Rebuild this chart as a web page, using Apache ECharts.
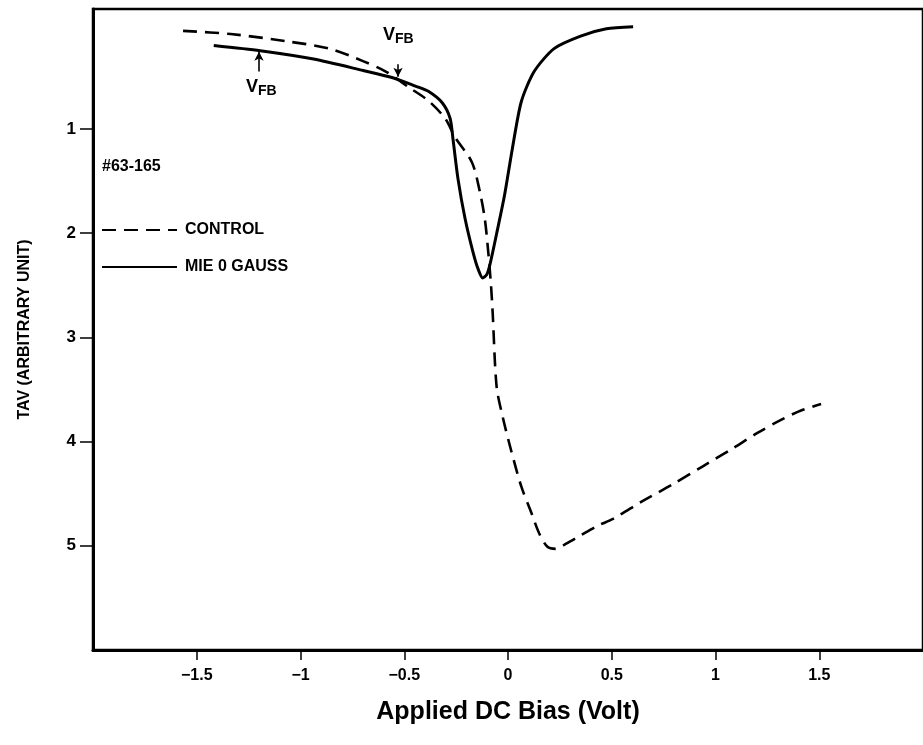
<!DOCTYPE html>
<html lang="en">
<head>
<meta charset="UTF-8">
<title>TAV vs Applied DC Bias</title>
<script src="https://cdn.jsdelivr.net/npm/echarts@6/dist/echarts.min.js"></script>
<style>
  html, body { margin: 0; padding: 0; background: #fff; }
  #container { width: 923px; height: 745px; }
</style>
</head>
<body>
<div id="container"></div>
<script>
// CONTROL (dashed) curve
const controlX = [-1.566, -1.337, -1.066, -0.861, -0.699, -0.589, -0.479, -0.384, -0.303, -0.255,
  -0.174, -0.136, -0.112, -0.098, -0.083, -0.074, -0.055, -0.026, 0.017, 0.064, 0.112, 0.15,
  0.19, 0.23, 0.28, 0.35, 0.43, 0.508, 0.65, 0.794, 0.937, 1.08, 1.20, 1.318, 1.415, 1.509];
const controlY = [0.06, 0.09, 0.16, 0.23, 0.35, 0.45, 0.60, 0.73, 0.90, 1.08,
  1.32, 1.60, 1.86, 2.12, 2.47, 2.76, 3.47, 3.76, 4.10, 4.43, 4.68, 4.88,
  5.01, 5.03, 4.98, 4.90, 4.81, 4.74, 4.57, 4.41, 4.24, 4.07, 3.92, 3.79, 3.70, 3.64];

// MIE 0 GAUSS (solid) curve
const mieX = [-1.418, -1.194, -0.937, -0.698, -0.555, -0.446, -0.384, -0.317, -0.279, -0.265,
  -0.241, -0.207, -0.169, -0.145, -0.122, -0.103, -0.088, -0.050, -0.017, 0.021, 0.064,
  0.126, 0.222, 0.350, 0.474, 0.603];
const mieY = [0.20, 0.25, 0.33, 0.44, 0.51, 0.59, 0.64, 0.75, 0.90, 1.10,
  1.48, 1.86, 2.18, 2.34, 2.43, 2.40, 2.31, 1.96, 1.64, 1.19, 0.74,
  0.45, 0.23, 0.11, 0.04, 0.02];

// axis ticks
const xTicks = [-1.5, -1, -0.5, 0, 0.5, 1, 1.5];
const yTicks = [1, 2, 3, 4, 5];

// flat-band voltage arrows: [x, from y, to y]
const vfbArrows = [[-1.2, 0.45, 0.26], [-0.53, 0.38, 0.50]];

const zip = (xs, ys) => xs.map((x, i) => [x, ys[i]]);
const FONT = '"Liberation Sans", Arial, Helvetica, sans-serif';

const chart = echarts.init(document.getElementById('container'), null, { renderer: 'canvas' });

const vfbRich = {
  v: { fontFamily: FONT, fontWeight: 'bold', fontSize: 18, verticalAlign: 'top' },
  s: { fontFamily: FONT, fontWeight: 'bold', fontSize: 14, padding: [6, 0, 0, 0] }
};

const option = {
  animation: false,
  backgroundColor: '#fff',
  grid: {
    left: 93, top: 9, right: -9, bottom: 95,
    show: true, borderColor: '#000', borderWidth: 2.5, backgroundColor: 'transparent'
  },
  legend: {
    orient: 'vertical',
    left: 96, top: 217,
    itemWidth: 75, itemHeight: 14, itemGap: 21,
    itemStyle: { opacity: 0 },
    textStyle: { fontFamily: FONT, fontWeight: 'bold', fontSize: 16, color: '#000', padding: [0, 0, 0, 3] },
    data: ['CONTROL', 'MIE 0 GAUSS']
  },
  xAxis: {
    type: 'value',
    min: -2, max: 2,
    name: 'Applied DC Bias (Volt)',
    nameLocation: 'middle',
    nameGap: 50,
    nameTextStyle: { fontFamily: FONT, fontWeight: 'bold', fontSize: 25, color: '#000' },
    axisLine: { onZero: false, lineStyle: { color: '#000', width: 3 } },
    axisTick: { customValues: xTicks, length: 10, lineStyle: { color: '#000', width: 1.5 } },
    axisLabel: {
      customValues: xTicks, margin: 18,
      fontFamily: FONT, fontWeight: 'bold', fontSize: 16, color: '#000',
      formatter: v => String(v).replace('-', '\u2212')
    },
    splitLine: { show: false }
  },
  yAxis: {
    type: 'value',
    inverse: true,
    min: -0.15, max: 6,
    name: 'TAV (ARBITRARY UNIT)',
    nameLocation: 'middle',
    nameGap: 60,
    nameTextStyle: { fontFamily: FONT, fontWeight: 'bold', fontSize: 16, color: '#000' },
    axisLine: { onZero: false, lineStyle: { color: '#000', width: 3 } },
    axisTick: { customValues: yTicks, length: 13, lineStyle: { color: '#000', width: 1.5 } },
    axisLabel: {
      customValues: yTicks, margin: 17,
      fontFamily: FONT, fontWeight: 'bold', fontSize: 17, color: '#000'
    },
    splitLine: { show: false }
  },
  series: [
    {
      name: 'CONTROL',
      type: 'line',
      data: zip(controlX, controlY),
      showSymbol: false, symbol: 'none',
      smooth: 0.3,
      lineStyle: { color: '#000', width: 2.6, type: [14, 8] },
      itemStyle: { color: '#000' },
      markLine: {
        silent: true,
        symbol: ['none', 'arrow'],
        symbolSize: [7, 9],
        label: { show: false },
        lineStyle: { color: '#000', width: 1.6, type: 'solid' },
        data: vfbArrows.map(a => [{ coord: [a[0], a[1]] }, { coord: [a[0], a[2]] }])
      }
    },
    {
      name: 'MIE 0 GAUSS',
      type: 'line',
      data: zip(mieX, mieY),
      showSymbol: false, symbol: 'none',
      smooth: 0.25,
      lineStyle: { color: '#000', width: 3 },
      itemStyle: { color: '#000' }
    }
  ],
  graphic: [
    {
      type: 'text', left: 102, top: 159,
      style: { text: '#63-165', font: 'bold 16px ' + FONT, fill: '#000' }
    },
    {
      type: 'text', left: 246, top: 78,
      style: { text: '{v|V}{s|FB}', fill: '#000', rich: vfbRich }
    },
    {
      type: 'text', left: 383, top: 26,
      style: { text: '{v|V}{s|FB}', fill: '#000', rich: vfbRich }
    }
  ]
};

chart.setOption(option);
</script>
</body>
</html>
